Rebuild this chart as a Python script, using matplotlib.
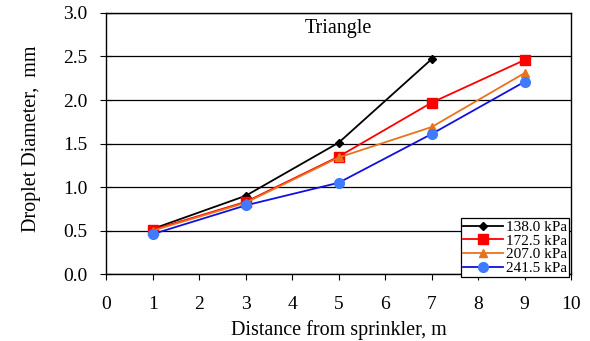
import numpy as np
import matplotlib.pyplot as plt

plt.rcParams['font.family'] = ['Liberation Serif', 'DejaVu Serif']

# droplet diameter (mm) vs distance from sprinkler (m), triangle layout
dist_138 = [1, 3, 5, 7]
diam_138 = [0.52, 0.90, 1.51, 2.47]
dist = [1, 3, 5, 7, 9]
diam_172 = [0.51, 0.83, 1.35, 1.97, 2.46]
diam_207 = [0.50, 0.82, 1.34, 1.69, 2.31]
diam_241 = [0.46, 0.79, 1.05, 1.61, 2.21]

fig = plt.figure(figsize=(5.9, 3.41), dpi=100)
ax = fig.add_axes([0.18, 0.196, 0.788, 0.766])

ax.plot(dist_138, diam_138, color='black', marker='D', markersize=4.5, lw=1.3, label='138.0 kPa')
ax.plot(dist, diam_172, color='#ff0000', marker='s', markersize=6.5, lw=1.3, label='172.5 kPa')
ax.plot(dist, diam_207, color='#e8731c', marker='^', markersize=5.5, lw=1.3, label='207.0 kPa')
ax.plot(dist, diam_241, color='#1010e0', marker='o', markersize=7, lw=1.3,
        markerfacecolor='#3f7bff', markeredgecolor='#3f7bff', label='241.5 kPa')

ax.set_xlim(0, 10)
ax.set_ylim(0, 3.0)
ax.set_xticks(np.arange(0, 11, 1))
ax.set_yticks(np.arange(0, 3.01, 0.5))
ax.set_yticklabels([f'{v:.1f}' for v in np.arange(0, 3.01, 0.5)])
ax.yaxis.grid(True, color='black', lw=0.9)
ax.set_axisbelow(True)
ax.tick_params(axis='y', direction='inout', length=9, labelsize=14, pad=9)
ax.tick_params(axis='x', direction='out', length=4.5, labelsize=14, pad=11)
for s in ax.spines.values():
    s.set_linewidth(1.0)

ax.set_xlabel('Distance from sprinkler, m', fontsize=14.5, labelpad=5)
ax.set_ylabel('Droplet Diameter,  mm', fontsize=14.5, labelpad=16, y=0.52)
ax.text(0.5, 0.975, 'Triangle', transform=ax.transAxes, ha='center', va='top', fontsize=14.5)

leg = ax.legend(loc='lower right', bbox_to_anchor=(0.996, -0.012), fontsize=11,
                frameon=True, fancybox=False, edgecolor='black', framealpha=1,
                borderpad=0.15, labelspacing=0.0, handlelength=2.6, handletextpad=0.2,
                borderaxespad=0)
leg.get_frame().set_linewidth(0.9)

fig.savefig('out.png', dpi=100)
